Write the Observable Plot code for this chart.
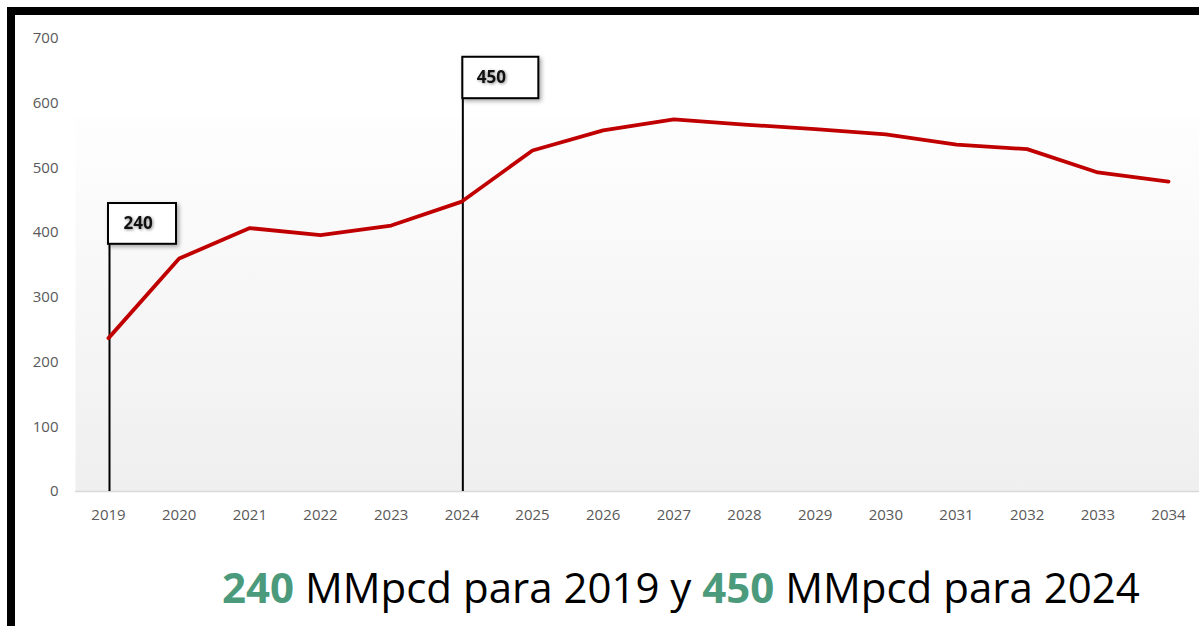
<!DOCTYPE html>
<html>
<head>
<meta charset="utf-8">
<script src="https://cdn.jsdelivr.net/npm/d3@7"></script>
<script src="https://cdn.jsdelivr.net/npm/@observablehq/plot@0.6"></script>
<style>
  html, body { margin: 0; padding: 0; background: #fff; width: 1199px; height: 626px; overflow: hidden; }
  #chart { position: absolute; left: 0; top: 0; }
  #frame { position: absolute; left: 7px; top: 7px; width: 1192px; height: 619px; box-sizing: border-box;
           border-top: 8px solid #000; border-left: 8px solid #000; pointer-events: none; }
  #caption { position: absolute; left: 222px; top: 566px; font-family: "Open Sans", sans-serif; font-size: 42px;
             line-height: 1; color: #000; white-space: nowrap; }
  #caption b { color: #4b9a7c; font-weight: 700; }
  svg g[aria-label="rect"] rect { filter: drop-shadow(2px 2px 2px rgba(0,0,0,0.35)); }
  svg g[aria-label="text"] text { filter: drop-shadow(1px 1px 1.5px rgba(0,0,0,0.45)); }
</style>
</head>
<body>
<div id="chart"></div>
<div id="frame"></div>
<div id="caption"><b>240</b> MMpcd para 2019 y <b>450</b> MMpcd para 2024</div>
<script>
// Data
const years = [2019, 2020, 2021, 2022, 2023, 2024, 2025, 2026, 2027, 2028, 2029, 2030, 2031, 2032, 2033, 2034];
const production = [237, 360, 407, 396, 411, 448, 527, 558, 575, 567, 560, 552, 536, 529, 493, 479];
const yTicks = [0, 100, 200, 300, 400, 500, 600, 700];

// Callouts
const calloutYears = [2019, 2024];
const calloutLabels = ["240", "450"];
const calloutBottom = [382, 607];
const calloutTop = [445, 671];

const series = years.map((y, i) => ({year: y, value: production[i]}));
const callouts = calloutYears.map((y, i) => ({year: y, label: calloutLabels[i], bottom: calloutBottom[i], top: calloutTop[i]}));

const chart = Plot.plot({
  width: 1199,
  height: 535,
  marginLeft: 75,
  marginRight: 0,
  marginTop: 38,
  marginBottom: 44,
  style: {fontFamily: "'Open Sans', sans-serif", background: "transparent", overflow: "visible"},
  x: {type: "linear", domain: [2019, 2034], range: [108, 1168], label: null},
  y: {domain: [0, 700], range: [491, 38], label: null},
  marks: [
    Plot.frame({fill: "url(#bgGrad)", stroke: "none", insetTop: 78}),
    Plot.ruleY([0], {stroke: "#d9d9d9", strokeWidth: 1.5}),
    Plot.axisY({ticks: yTicks, tickSize: 0, tickPadding: 17, fill: "#595959", fontSize: 15, tickFormat: d => d, label: null}),
    Plot.axisX({ticks: years, tickSize: 0, tickPadding: 18, fill: "#595959", fontSize: 15, tickFormat: d => String(d), label: null}),
    Plot.ruleX(callouts, {x: "year", y1: 0, y2: "top", stroke: "#000", strokeWidth: 2, dx: 1}),
    Plot.line(series, {x: "year", y: "value", stroke: "#c00000", strokeWidth: 3.8, strokeLinejoin: "round"}),
    Plot.rect(callouts.filter(d => d.year === 2019), {x1: "year", x2: "year", y1: "bottom", y2: "top", insetRight: -68, fill: "#fff", stroke: "#000", strokeWidth: 2}),
    Plot.rect(callouts.filter(d => d.year === 2024), {x1: "year", x2: "year", y1: "bottom", y2: "top", insetLeft: 1, insetRight: -77, fill: "#fff", stroke: "#000", strokeWidth: 2}),
    Plot.text(callouts, {x: "year", y: d => (d.bottom + d.top) / 2, text: "label", dx: 15, textAnchor: "start", fontSize: 17, fontWeight: "bold", fill: "#111"})
  ]
});

d3.select(chart).insert("defs", ":first-child").html(
  '<linearGradient id="bgGrad" x1="0" y1="0" x2="0" y2="1">' +
  '<stop offset="0%" stop-color="#fefefe"/><stop offset="100%" stop-color="#efefef"/></linearGradient>'
);

document.getElementById("chart").appendChild(chart);
</script>
</body>
</html>
